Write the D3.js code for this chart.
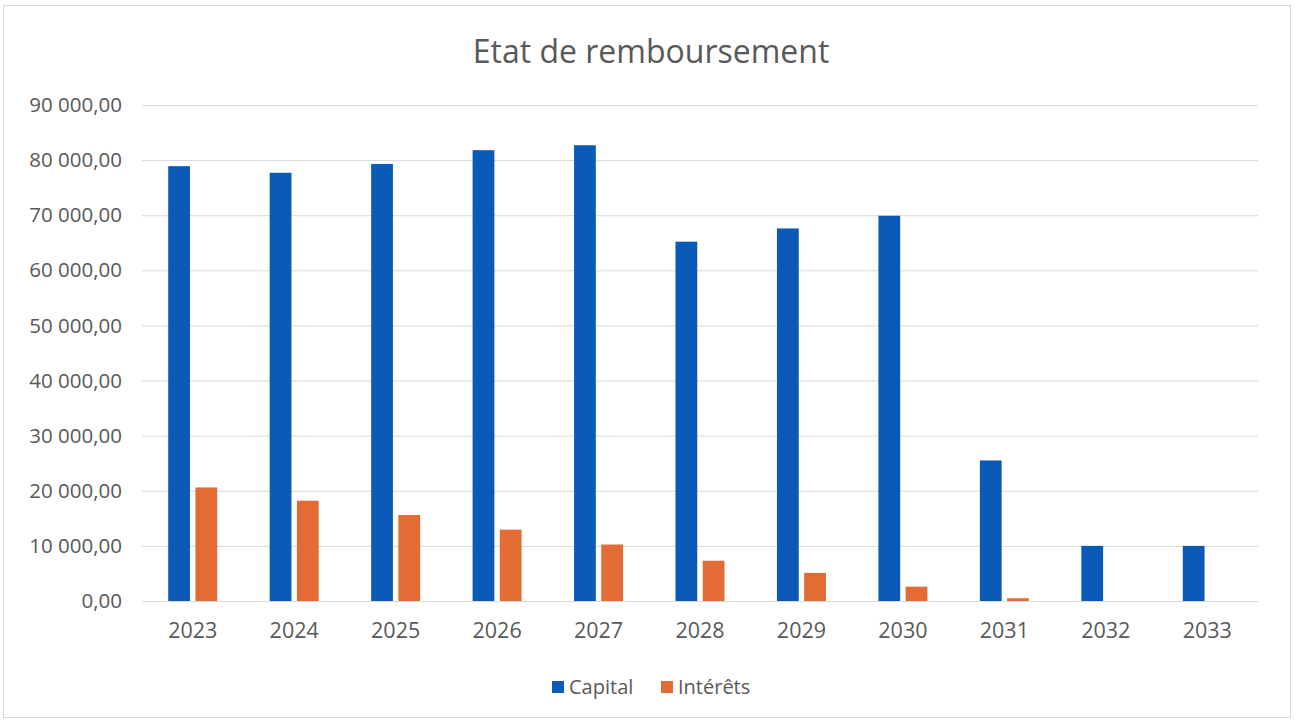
<!DOCTYPE html>
<html><head><meta charset="utf-8">
<script src="https://cdn.jsdelivr.net/npm/d3@7"></script>
<style>body{margin:0;background:#fff}svg{display:block}</style>
</head><body>
<script>
const categories = ["2023","2024","2025","2026","2027","2028","2029","2030","2031","2032","2033"];
const capital = [78900, 77700, 79300, 81800, 82700, 65200, 67600, 69900, 25500, 10000, 10000];
const interets = [20600, 18200, 15600, 12950, 10250, 7300, 5100, 2600, 500, 0, 0];
const seriesNames = ["Capital", "Intérêts"];
const yTicks = [0,10000,20000,30000,40000,50000,60000,70000,80000,90000];

(function(){
const W = 1297, H = 723;
const font = "'Open Sans', sans-serif";
const textColor = "#595959";
const colors = ["#0b5ab8", "#e36b34"];
const svg = d3.select("body").append("svg").attr("width", W).attr("height", H);

svg.append("rect").attr("x",3.5).attr("y",5.5).attr("width",1287).attr("height",712)
  .attr("fill","#fff").attr("stroke","#d9d9d9");

svg.append("text").attr("x",651).attr("y",63).attr("text-anchor","middle")
  .attr("font-family",font).attr("font-size",32).attr("fill",textColor)
  .text("Etat de remboursement");

const mL = 142, mR = 1258, mT = 105, mB = 601;
const x = d3.scaleBand().domain(categories).range([mL,mR]).paddingInner(0).paddingOuter(0);
const y = d3.scaleLinear().domain([0,90000]).range([mB, mT]);
const xs = d3.scaleBand().domain(seriesNames).range([0,49]).paddingInner(0.2);

const fmt = v => d3.format(",.2f")(v).replace(/,/g," ").replace(".",",");

const yAxis = d3.axisLeft(y).tickValues(yTicks).tickSize(-(mR-mL)).tickFormat(fmt).tickPadding(20);
const gy = svg.append("g").attr("transform",`translate(${mL},0)`).call(yAxis);
gy.select(".domain").remove();
gy.selectAll("line").attr("stroke","#d9d9d9");
gy.selectAll("text").attr("font-family",font).attr("font-size",20.5).attr("fill",textColor);

const xAxis = d3.axisBottom(x).tickSize(0).tickPadding(22);
const gx = svg.append("g").attr("transform",`translate(0,${mB})`).call(xAxis);
gx.select(".domain").attr("stroke","#d9d9d9");
gx.selectAll("text").attr("font-family",font).attr("font-size",21.5).attr("fill",textColor);

const data = categories.map((c,i)=>({c, vals:[capital[i], interets[i]]}));
const groups = svg.append("g").selectAll("g").data(data).join("g")
  .attr("transform", d => `translate(${x(d.c)+x.bandwidth()/2-24.5},0)`);
groups.selectAll("rect").data(d => d.vals.map((v,j)=>({v, s:seriesNames[j], j})))
  .join("rect")
  .attr("x", d => xs(d.s)).attr("width", xs.bandwidth())
  .attr("y", d => y(d.v)).attr("height", d => mB - y(d.v))
  .attr("fill", d => colors[d.j]);

const leg = svg.append("g").attr("transform","translate(552,687)");
const legItems = [{n:"Capital",x:0},{n:"Intérêts",x:109}];
legItems.forEach((it,i)=>{
  leg.append("rect").attr("x",it.x).attr("y",-6).attr("width",12).attr("height",12).attr("fill",colors[i]);
  leg.append("text").attr("x",it.x+17).attr("y",0).attr("dy","0.35em")
    .attr("font-family",font).attr("font-size",20).attr("fill",textColor).text(it.n);
});
})();
</script>
</body></html>
